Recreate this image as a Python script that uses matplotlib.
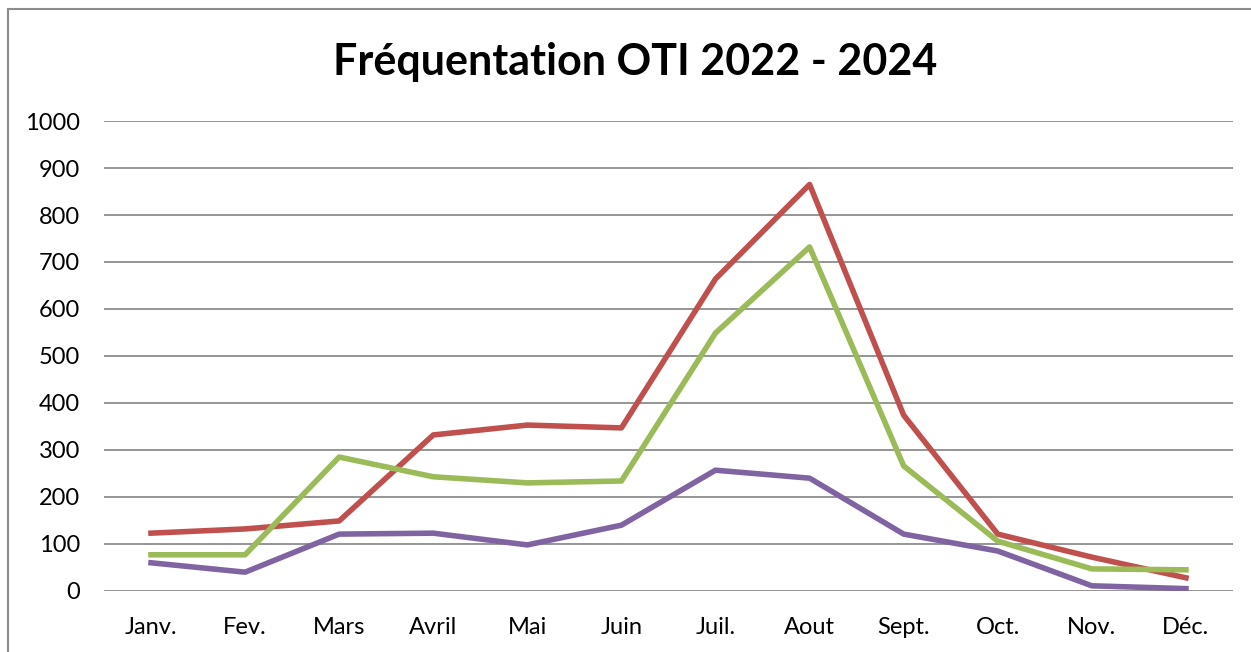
import matplotlib.pyplot as plt
from matplotlib.patches import Rectangle

plt.rcParams['font.family'] = ['Lato', 'DejaVu Sans']

mois = ['Janv.', 'Fev.', 'Mars', 'Avril', 'Mai', 'Juin', 'Juil.', 'Aout', 'Sept.', 'Oct.', 'Nov.', 'Déc.']
serie_rouge = [123, 132, 149, 332, 353, 347, 664, 865, 374, 121, 72, 28]
serie_verte = [77, 77, 285, 243, 230, 234, 549, 732, 266, 106, 47, 45]
serie_violette = [60, 40, 121, 123, 98, 140, 257, 240, 121, 85, 11, 5]

fig = plt.figure(figsize=(12.51, 6.52), dpi=100)
ax = fig.add_axes([0.0831, 0.0936, 0.9025, 0.7208])

x = range(len(mois))
ax.plot(x, serie_rouge, color='#C0504D', lw=4, solid_joinstyle='round')
ax.plot(x, serie_verte, color='#9BBB59', lw=4, solid_joinstyle='round')
ax.plot(x, serie_violette, color='#8064A2', lw=4, solid_joinstyle='round')

ax.set_ylim(0, 1000)
ax.set_xlim(-0.5, 11.5)
ax.set_yticks(range(0, 1001, 100))
ax.set_xticks(list(x))
ax.set_xticklabels(mois)
ax.grid(axis='y', color='#8c8c8c', lw=1.3)
ax.set_axisbelow(True)
for s in ax.spines.values():
    s.set_visible(False)
ax.tick_params(length=0, labelsize=17, colors='black')
ax.tick_params(axis='y', pad=17)
ax.tick_params(axis='x', pad=19)

fig.text(0.508, 0.905, 'Fréquentation OTI 2022 - 2024', ha='center', va='center',
         fontsize=31, fontweight='bold')

# cadre du graphique
fig.patches.append(Rectangle((8 / 1251, -0.1), 1.2, 1 - 9 / 652 + 0.1,
                             transform=fig.transFigure, fill=False,
                             edgecolor='#8c8c8c', lw=1.5))

fig.savefig('out.png', dpi=100)
